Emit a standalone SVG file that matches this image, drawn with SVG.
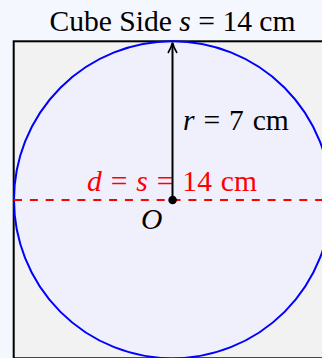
<svg xmlns="http://www.w3.org/2000/svg" width="322" height="358" viewBox="0 0 322 358">
<style>
text{font-family:"Liberation Serif","Times New Roman",serif;font-size:29.6px;}
.it{font-style:italic;}
.red{fill:#ff0000;}
.ws{word-spacing:1.5px;}
</style>
<rect x="0" y="0" width="322" height="358" fill="#f4f7fd"/>
<g id="cube">
<rect x="13.7" y="41.3" width="317" height="317" fill="#f2f2f2" stroke="#000" stroke-width="2"/>
</g>
<g id="sphere">
<circle cx="172.5" cy="199.8" r="158.5" fill="#f0f0fc" stroke="#0000ff" stroke-width="2"/>
</g>
<g id="title">
<text x="172.5" y="31" text-anchor="middle"><tspan>Cube Side </tspan><tspan class="it">s</tspan><tspan> = 14 cm</tspan></text>
</g>
<g id="connectors">
<line x1="14" y1="200" x2="332" y2="200" stroke="#ff0000" stroke-width="2" stroke-dasharray="8 7.85"/>
</g>
<g id="diameter-label">
<text class="red ws" x="172" y="190.5" text-anchor="middle"><tspan class="it">d</tspan><tspan> = </tspan><tspan class="it">s</tspan><tspan> = 14 cm</tspan></text>
</g>
<g id="radius">
<line x1="172.5" y1="200" x2="172.5" y2="43.5" stroke="#000" stroke-width="2"/>
<path d="M168,53 Q171.5,47 172.5,42.5 Q173.5,47 177,53" fill="none" stroke="#000" stroke-width="1.6"/>
</g>
<g id="radius-label">
<text class="ws" x="183" y="129.5"><tspan class="it">r</tspan><tspan> = 7 cm</tspan></text>
</g>
<g id="center">
<circle cx="172.6" cy="200" r="4.3" fill="#000"/>
<text class="it" x="141" y="228.5">O</text>
</g>
</svg>
